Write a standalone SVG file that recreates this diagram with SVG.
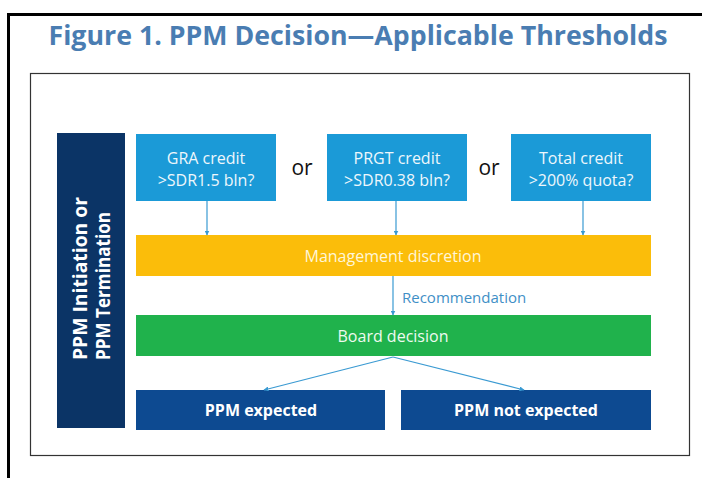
<svg xmlns="http://www.w3.org/2000/svg" width="702" height="478" viewBox="0 0 702 478">
<style>
.title{font-family:"Open Sans","Noto Sans",sans-serif;font-weight:bold;font-size:26px;fill:#4a7db2}
.box{font-family:"Open Sans","Noto Sans",sans-serif;font-size:16px;fill:#eef7fc;text-anchor:middle}
.bar{font-family:"Open Sans","Noto Sans",sans-serif;font-size:16px;text-anchor:middle}
.bold{font-family:"Open Sans","Noto Sans",sans-serif;font-size:16px;font-weight:bold;fill:#ffffff;text-anchor:middle}
.or{font-family:"Open Sans","Noto Sans",sans-serif;font-size:21px;fill:#111111;text-anchor:middle}
.side{font-family:"Open Sans","Noto Sans",sans-serif;font-size:19px;font-weight:bold;fill:#ffffff}
.conn{stroke:#3a9ad2;stroke-width:1.2;fill:none;marker-end:url(#ah)}
</style>
<defs>
<marker id="ah" viewBox="0 0 10 10" refX="9" refY="5" markerWidth="5" markerHeight="5" orient="auto" markerUnits="userSpaceOnUse">
<path d="M0,0 L10,5 L0,10 z" fill="#3a9ad2"/>
</marker>
</defs>
<rect width="702" height="478" fill="#ffffff"/>
<rect x="8.5" y="14.5" width="760" height="560" fill="none" stroke="#000000" stroke-width="3"/>
<text class="title" x="358" y="45" text-anchor="middle" textLength="619" lengthAdjust="spacingAndGlyphs">Figure 1. PPM Decision—Applicable Thresholds</text>
<rect x="30.5" y="73.5" width="659" height="382" fill="#ffffff" stroke="#333333" stroke-width="1.2"/>

<g id="side">
<rect x="57" y="133" width="68" height="295" fill="#0b3466"/>
<text class="side" transform="translate(87,360) rotate(-90)" textLength="163" lengthAdjust="spacingAndGlyphs">PPM Initiation or</text>
<text class="side" transform="translate(110,360) rotate(-90)" textLength="148" lengthAdjust="spacingAndGlyphs">PPM Termination</text>
</g>

<g id="gra">
<rect x="136" y="134" width="140" height="67" fill="#1b9ad7"/>
<text class="box" x="206" y="164">GRA credit</text>
<text class="box" x="206" y="186">&gt;SDR1.5 bln?</text>
</g>
<g id="or1"><text class="or" x="302" y="175">or</text></g>
<g id="prgt">
<rect x="327" y="134" width="140" height="67" fill="#1b9ad7"/>
<text class="box" x="397" y="164">PRGT credit</text>
<text class="box" x="397" y="186">&gt;SDR0.38 bln?</text>
</g>
<g id="or2"><text class="or" x="489" y="175">or</text></g>
<g id="total">
<rect x="511" y="134" width="140" height="67" fill="#1b9ad7"/>
<text class="box" x="581" y="164">Total credit</text>
<text class="box" x="581" y="186">&gt;200% quota?</text>
</g>

<g id="mgmt">
<rect x="136" y="235" width="515" height="41" fill="#fbbd0a"/>
<text class="bar" x="393" y="262" fill="#fff6d8">Management discretion</text>
</g>
<g id="board">
<rect x="136" y="315" width="515" height="41" fill="#20b24c"/>
<text class="bar" x="393" y="342" fill="#eefaf0">Board decision</text>
</g>
<g id="expected">
<rect x="136" y="390" width="249" height="40" fill="#0d4a91"/>
<text class="bold" x="261" y="416">PPM expected</text>
</g>
<g id="notexpected">
<rect x="401" y="390" width="250" height="40" fill="#0d4a91"/>
<text class="bold" x="526" y="416">PPM not expected</text>
</g>

<g id="connectors">
<line class="conn" x1="207" y1="201" x2="207" y2="235"/>
<line class="conn" x1="396" y1="201" x2="396" y2="235"/>
<line class="conn" x1="583" y1="201" x2="583" y2="235"/>
<line class="conn" x1="393" y1="276" x2="393" y2="315"/>
<text x="402" y="303" font-family="Open Sans, Noto Sans, sans-serif" font-size="15" fill="#3f8fc6">Recommendation</text>
<line class="conn" x1="393" y1="357" x2="264" y2="390"/>
<line class="conn" x1="393" y1="357" x2="524" y2="390"/>
</g>
</svg>
